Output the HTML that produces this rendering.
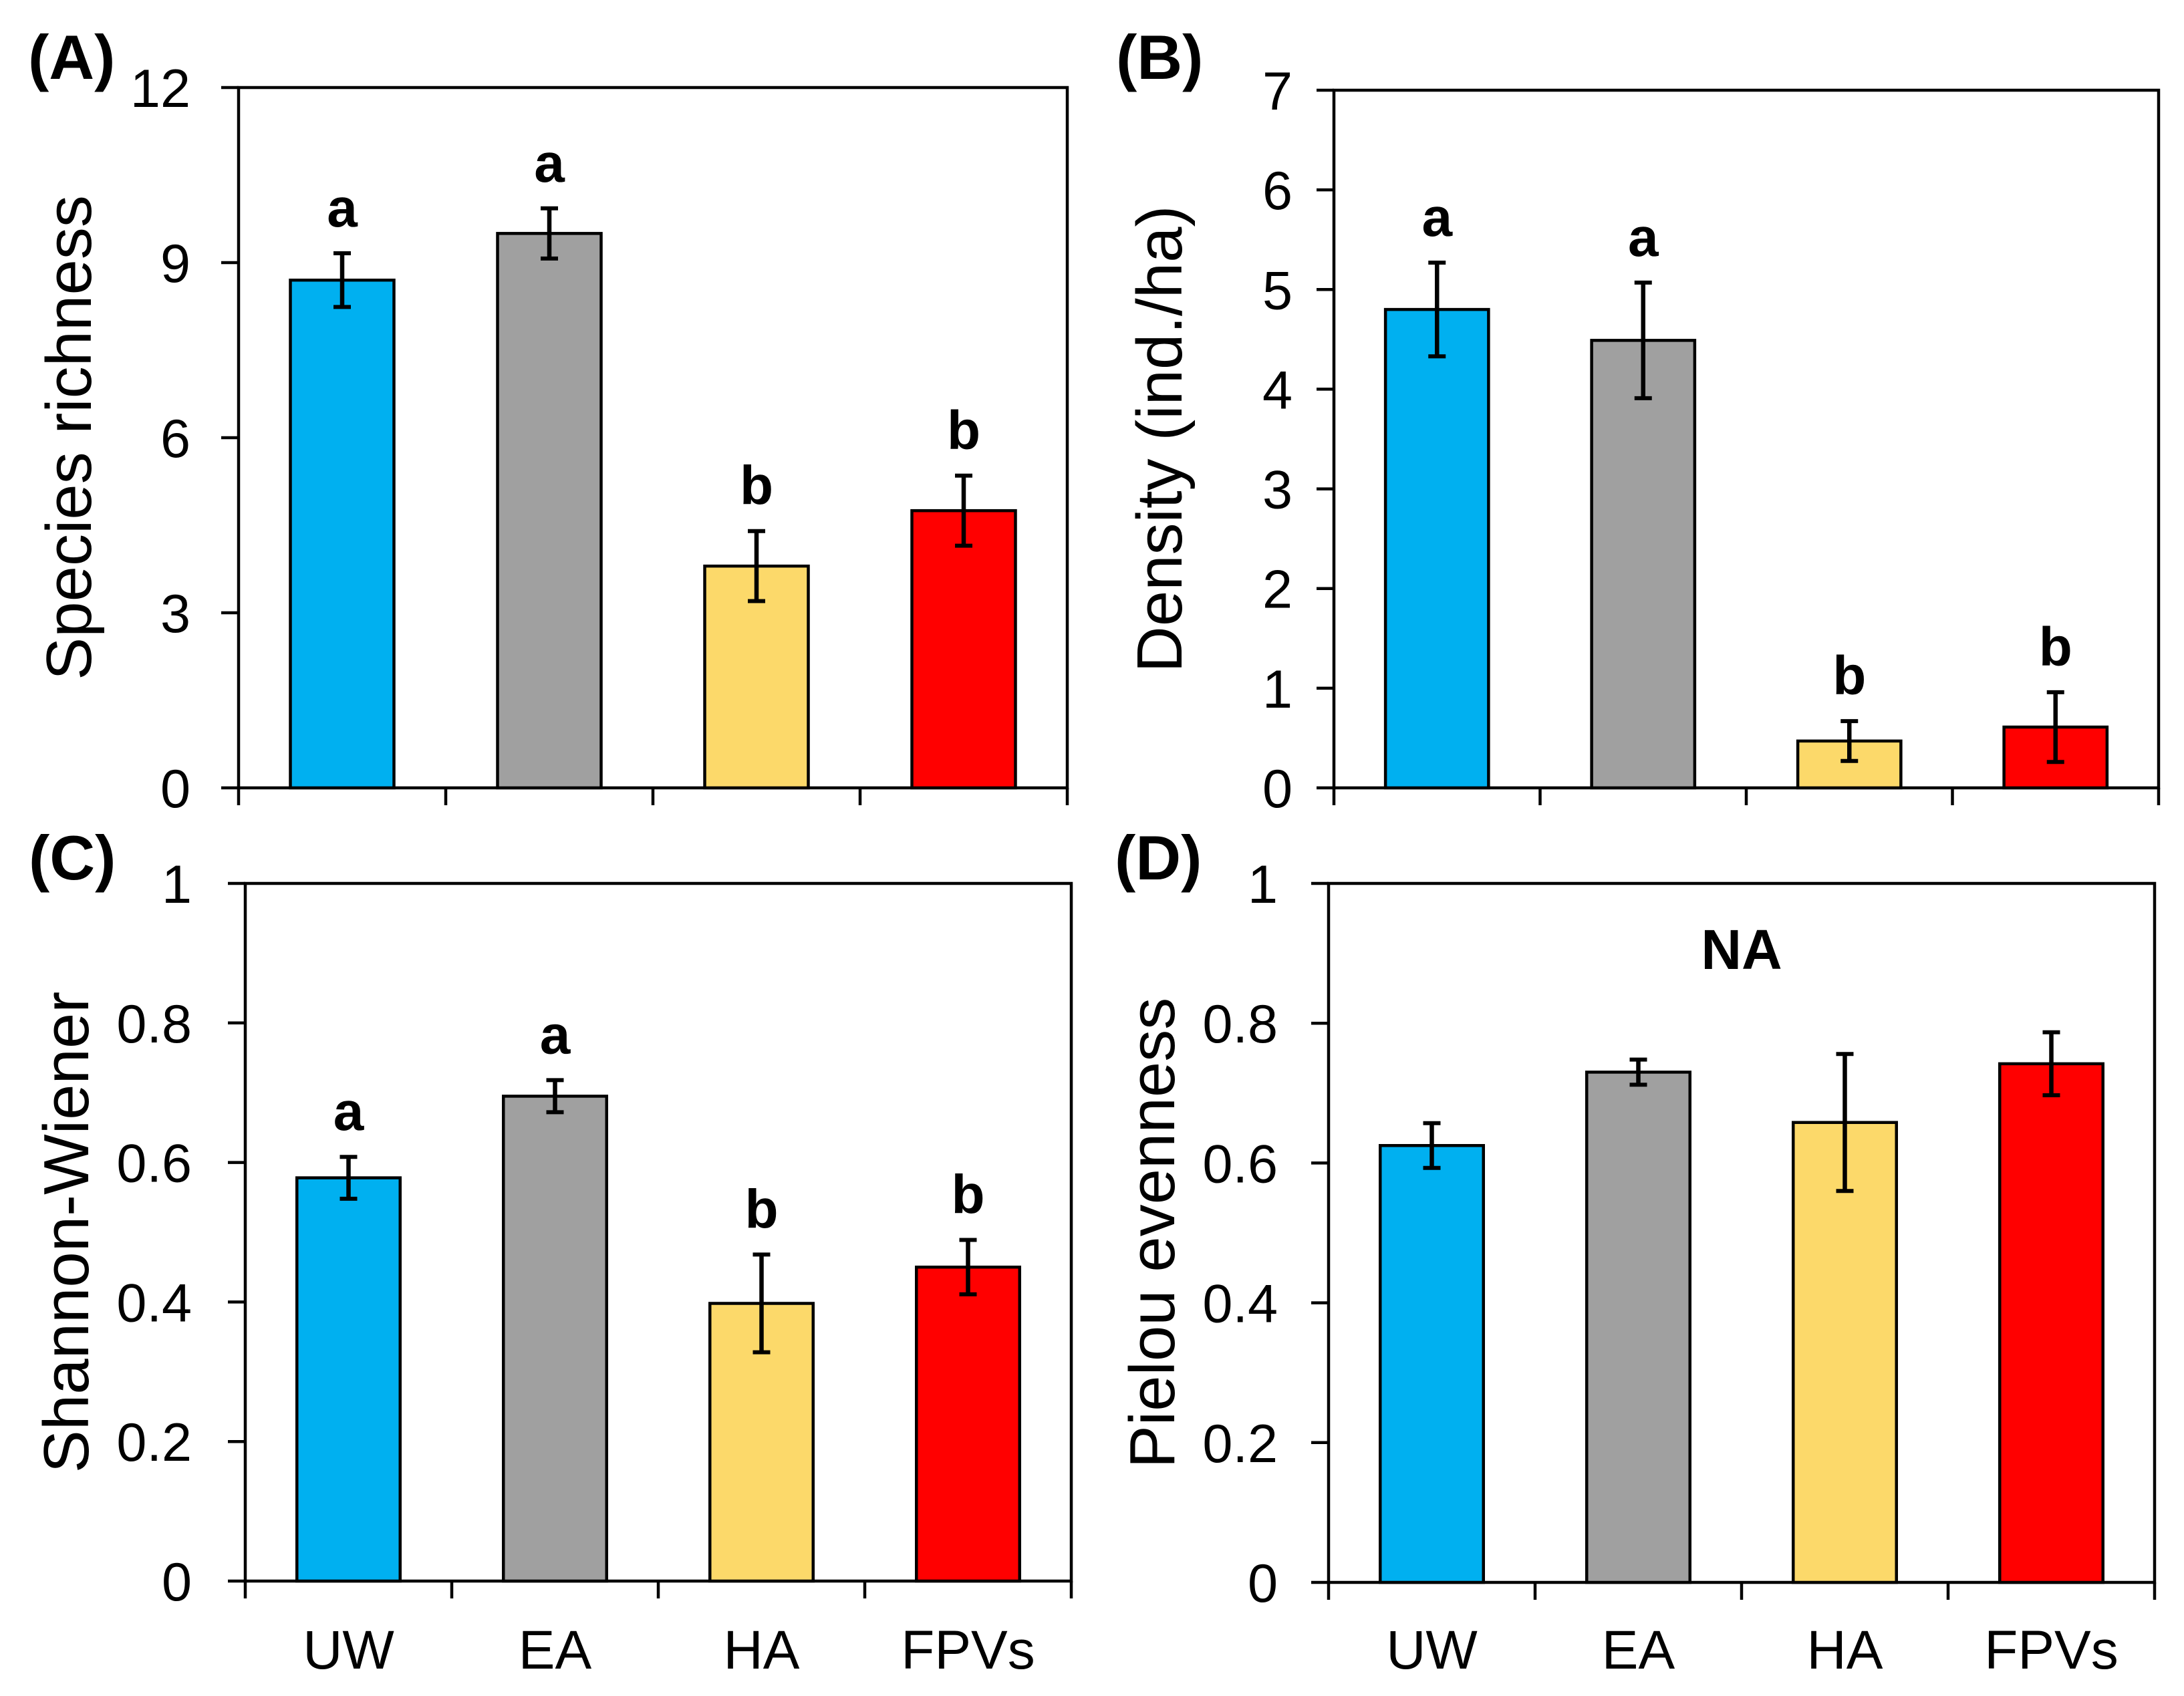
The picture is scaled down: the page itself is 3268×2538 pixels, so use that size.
<!DOCTYPE html>
<html><head><meta charset="utf-8"><style>
html,body{margin:0;padding:0;background:#fff;}
svg{display:block;font-family:"Liberation Sans",Arial,sans-serif;}
</style></head>
<body>
<svg id="fig" width="3268" height="2538" viewBox="0 0 3268 2538" xmlns="http://www.w3.org/2000/svg"></svg>
<script>
const categories = ["UW","EA","HA","FPVs"];
const colors = ["#00B0F0","#A0A0A0","#FCD96A","#FF0000"];
const richnessValues = [8.7, 9.5, 3.8, 4.75];
const richnessErrors = [0.46, 0.43, 0.6, 0.6];
const richnessLetters = ["a","a","b","b"];
const richnessTicks = [0,3,6,9,12];
const densityValues = [4.8, 4.49, 0.47, 0.61];
const densityErrors = [0.47, 0.58, 0.2, 0.35];
const densityLetters = ["a","a","b","b"];
const densityTicks = [0,1,2,3,4,5,6,7];
const shannonValues = [0.578, 0.695, 0.398, 0.45];
const shannonErrors = [0.03, 0.023, 0.07, 0.039];
const shannonLetters = ["a","a","b","b"];
const shannonTicks = [0,0.2,0.4,0.6,0.8,1];
const shannonTickLabels = ["0","0.2","0.4","0.6","0.8","1"];
const pielouValues = [0.625, 0.73, 0.658, 0.742];
const pielouErrors = [0.032, 0.018, 0.098, 0.045];
const pielouLetters = ["","","",""];
const pielouTicks = [0,0.2,0.4,0.6,0.8,1];
const pielouTickLabels = ["0","0.2","0.4","0.6","0.8","1"];

const NS = "http://www.w3.org/2000/svg";
const svg = document.getElementById("fig");
function mk(tag, attrs, parent){
  const e = document.createElementNS(NS, tag);
  for (const k in attrs) e.setAttribute(k, attrs[k]);
  (parent||svg).appendChild(e);
  return e;
}

function panel(p){
  const g = mk("g", {});
  
  
  const ymax = p.ticks[p.ticks.length-1];
  const yS = v => p.bottom - (v / ymax) * (p.bottom - p.top);
  const cw = (p.right - p.left) / categories.length;
  const xS = i => p.left + cw * (i + 0.5);

  const frame = mk("rect", {x:p.left, y:p.top, width:p.right-p.left, height:p.bottom-p.top, fill:"none", stroke:"#000", "stroke-width":4.5}, g);
  
  

  p.values.forEach((v,i)=>{
    const b = mk("rect", {x:xS(i)-cw/4, y:yS(v), width:cw/2, height:p.bottom-yS(v), fill:colors[i], stroke:"#000", "stroke-width":4.5}, g);
    
    
  });

  p.ticks.forEach((t,k)=>{
    const y = yS(t);
    const tl = mk("line", {x1:p.left-26, x2:p.left, y1:y, y2:y, stroke:"#000", "stroke-width":4.5}, g);
    
    
    const tx = mk("text", {x:p.left-p.labGap, y:y+29, "font-size":81, "text-anchor":"end", fill:"#000"}, g);
    tx.textContent = p.tickLabels ? p.tickLabels[k] : String(t);
    
    
  });

  for (let i=0;i<=categories.length;i++){
    const x = p.left + cw*i;
    const xt = mk("line", {x1:x, x2:x, y1:p.bottom, y2:p.bottom+26, stroke:"#000", "stroke-width":4.5}, g);
    
    
  }
  if (p.xlabels){
    categories.forEach((c,i)=>{
      const t = mk("text", {x:xS(i), y:2497, "font-size":82, "text-anchor":"middle", fill:"#000"}, g);
      t.textContent = c;
      
      
    });
  }

  p.values.forEach((v,i)=>{
    const x = xS(i), e = p.errors[i];
    const y1 = yS(v+e), y2 = yS(v-e);
    const eg = mk("g", {stroke:"#000", "stroke-width":6.5}, g);
    
    
    mk("line", {x1:x, x2:x, y1:y1, y2:y2}, eg);
    mk("line", {x1:x-13, x2:x+13, y1:y1, y2:y1, "stroke-width":6}, eg);
    mk("line", {x1:x-13, x2:x+13, y1:y2, y2:y2, "stroke-width":6}, eg);
    if (p.letters[i]){
      const t = mk("text", {x:x, y:y1-40, "font-size":82, "font-weight":"bold", "text-anchor":"middle", fill:"#000"}, g);
      t.textContent = p.letters[i];
      
      
    }
  });

  const cy = (p.top + p.bottom)/2;
  const at = mk("text", {x:p.titleX, y:cy, "font-size":96, "text-anchor":"middle", fill:"#000", transform:`rotate(-90 ${p.titleX} ${cy})`}, g);
  at.textContent = p.title;
  
  

  const pl = mk("text", {x:p.labelX, y:p.labelY, "font-size":94, "font-weight":"bold", fill:"#000"}, g);
  pl.textContent = p.label;
  
  
}

panel({id:"panel-a", left:357, right:1597, top:131, bottom:1179, values:richnessValues, errors:richnessErrors, letters:richnessLetters, ticks:richnessTicks, labGap:72, title:"Species richness", titleX:136, label:"(A)", labelX:42, labelY:118, xlabels:false});
panel({id:"panel-b", left:1996, right:3230, top:135, bottom:1179, values:densityValues, errors:densityErrors, letters:densityLetters, ticks:densityTicks, labGap:62, title:"Density (ind./ha)", titleX:1768, label:"(B)", labelX:1670, labelY:118, xlabels:false});
panel({id:"panel-c", left:367, right:1603, top:1322, bottom:2366, values:shannonValues, errors:shannonErrors, letters:shannonLetters, ticks:shannonTicks, tickLabels:shannonTickLabels, labGap:80, title:"Shannon-Wiener", titleX:132, label:"(C)", labelX:43, labelY:1316, xlabels:true});
panel({id:"panel-d", left:1988, right:3224, top:1322, bottom:2368, values:pielouValues, errors:pielouErrors, letters:pielouLetters, ticks:pielouTicks, tickLabels:pielouTickLabels, labGap:76, title:"Pielou evenness", titleX:1757, label:"(D)", labelX:1668, labelY:1316, xlabels:true});

const na = mk("text", {x:2606, y:1450, "font-size":84, "font-weight":"bold", "text-anchor":"middle", fill:"#000"});
na.textContent = "NA";


</script>
</body></html>
